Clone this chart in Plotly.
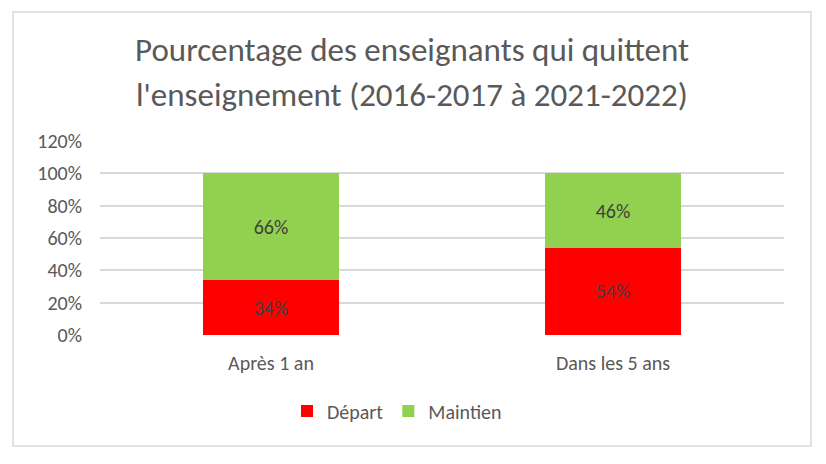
import plotly.graph_objects as go

categories = ["Après 1 an", "Dans les 5 ans"]
depart = [0.34, 0.54]
maintien = [0.66, 0.46]
series_names = ["Départ", "Maintien"]
title_lines = [
    "Pourcentage des enseignants qui quittent",
    "l'enseignement (2016-2017 à 2021-2022)",
]

FONT = "Calibri, Carlito, Lato, sans-serif"
GREY = "#595959"

fig = go.Figure()
fig.add_trace(go.Bar(
    x=categories, y=depart, name=series_names[0],
    marker=dict(color="#FF0000", line=dict(width=0)),
    text=[f"{v:.0%}" for v in depart], textposition="inside",
    insidetextanchor="middle",
    textfont=dict(color="#404040", size=20, family=FONT),
))
fig.add_trace(go.Bar(
    x=categories, y=maintien, name=series_names[1],
    marker=dict(color="#92D050", line=dict(width=0)),
    text=[f"{v:.0%}" for v in maintien], textposition="inside",
    insidetextanchor="middle",
    textfont=dict(color="#404040", size=20, family=FONT),
))

# page pixels; the html body adds an 8px margin, so work in figure pixels
OFF = 8
W, H = 826 - OFF, 464 - OFF
L, T = 100 - OFF, 141 - OFF
R = W - (784 - OFF)
B = H - (335 - OFF)
pw, ph = W - L - R, H - T - B


def px_x(v):
    return (v - OFF - L) / pw


def px_y(v):
    return (H - B - (v - OFF)) / ph


fig.update_layout(
    width=W, height=H,
    margin=dict(l=L, r=R, t=T, b=B),
    barmode="stack",
    bargap=0.6,
    plot_bgcolor="white",
    paper_bgcolor="white",
    font=dict(family=FONT, color=GREY, size=20),
    uniformtext=dict(mode="show", minsize=10),
    legend=dict(
        orientation="h", x=px_x(412) - 15 / pw, xanchor="center",
        y=px_y(411), yanchor="middle",
        font=dict(size=20, color=GREY),
        traceorder="normal", itemwidth=30,
    ),
    xaxis=dict(
        showline=False, ticks="", showgrid=False,
        tickfont=dict(size=20, color=GREY),
        ticklabelstandoff=14,
    ),
    yaxis=dict(
        range=[0, 1.2], dtick=0.2, tickformat=".0%",
        showgrid=True, gridcolor="#D9D9D9", gridwidth=1.5,
        zeroline=False, showline=False, ticks="",
        tickfont=dict(size=20, color=GREY),
        ticklabelstandoff=17,
    ),
)

for i, line in enumerate(title_lines):
    fig.add_annotation(
        text=line, xref="paper", yref="paper",
        x=px_x(412), y=px_y(50 + 45 * i),
        xanchor="center", yanchor="middle", showarrow=False,
        font=dict(size=33, color=GREY, family=FONT),
    )

fig.add_shape(
    type="rect", xref="paper", yref="paper",
    x0=px_x(13), x1=px_x(811), y0=px_y(446), y1=px_y(12),
    line=dict(color="#D9D9D9", width=1.5), layer="below",
)

fig.write_html("out.html")
